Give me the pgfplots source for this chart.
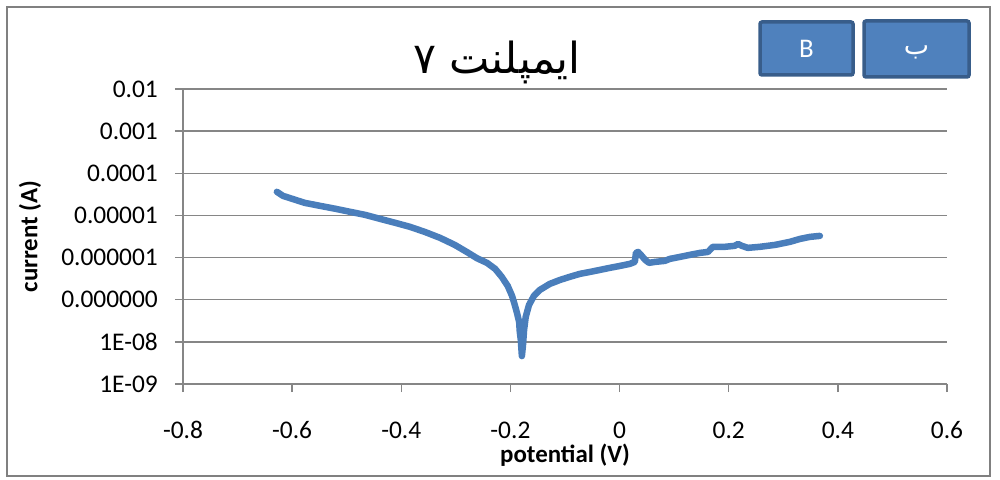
\documentclass[border=0pt]{standalone}
\usepackage{pgfplots}
\pgfplotsset{compat=1.18}
\usepackage{fontspec}
\setmainfont{Carlito}
\newfontfamily\arabicfont[Script=Arabic]{DejaVu Sans}
\TeXXeTstate=1
\definecolor{gridgray}{RGB}{134,134,134}
\definecolor{curveblue}{RGB}{74,126,187}
\definecolor{boxfill}{RGB}{79,129,189}
\definecolor{boxedge}{RGB}{56,93,138}
\definecolor{framegray}{RGB}{128,128,128}
\begin{document}
\begin{tikzpicture}
\path[use as bounding box] (0,0) rectangle (1000bp,480bp);
\draw[framegray, line width=1.8bp] (7bp,4bp) rectangle (990bp,473bp);
\begin{axis}[
  at={(183bp,96bp)}, anchor=south west,
  scale only axis, width=764bp, height=295bp,
  ymode=log, xmin=-0.8, xmax=0.6, ymin=1e-9, ymax=1e-2,
  axis lines=left, axis line style={-, gridgray, line width=1.5bp},
  xtick={-0.8,-0.6,-0.4,-0.2,0,0.2,0.4,0.6},
  xticklabels={-0.8,-0.6,-0.4,-0.2,0,0.2,0.4,0.6},
  ytick={1e-9,1e-8,1e-7,1e-6,1e-5,1e-4,1e-3,1e-2},
  yticklabels={1E-09,1E-08,0.000000,0.000001,0.00001,0.0001,0.001,0.01},
  minor tick num=0, yminorticks=false,
  tick align=outside, major tick length=8bp,
  tick style={gridgray, line width=1.5bp},
  ymajorgrids, grid style={gridgray, line width=1.5bp},
  xticklabel style={font=\fontsize{25.5}{30}\selectfont, inner sep=0pt, anchor=center, yshift=-38bp},
  yticklabel style={font=\fontsize{25.5}{30}\selectfont, inner sep=0pt, anchor=east, xshift=-17bp},
  xlabel={\textbf{potential (V)}}, ylabel={\textbf{current (A)}},
  every axis x label/.style={at={(axis description cs:0.5,0)}, yshift=-71bp, anchor=center, font=\fontsize{25}{30}\selectfont},
  every axis y label/.style={at={(axis description cs:0,0.5)}, xshift=-153bp, rotate=90, anchor=center, font=\fontsize{25}{30}\selectfont},
  clip=false,
]
\addplot[curveblue, line width=6.5bp, line join=round, line cap=round] coordinates {
(-0.628,3.64e-5) (-0.617,2.92e-5) (-0.600,2.48e-5) (-0.577,1.99e-5) (-0.549,1.69e-5)
(-0.521,1.44e-5) (-0.494,1.22e-5) (-0.466,1.03e-5) (-0.439,8.3e-6) (-0.411,6.67e-6)
(-0.384,5.36e-6) (-0.357,4.07e-6) (-0.329,2.94e-6) (-0.302,2.0e-6) (-0.280,1.36e-6)
(-0.261,9.6e-7) (-0.243,7.5e-7) (-0.228,5.4e-7) (-0.216,3.5e-7) (-0.205,2.13e-7)
(-0.197,1.23e-7) (-0.192,7.5e-8) (-0.188,4.85e-8) (-0.184,2.97e-8) (-0.183,1.82e-8)
(-0.181,1.11e-8) (-0.180,7.2e-9) (-0.179,4.6e-9) (-0.177,8.4e-9) (-0.175,1.92e-8)
(-0.172,3.9e-8) (-0.166,7.5e-8) (-0.157,1.23e-7) (-0.146,1.71e-7) (-0.128,2.37e-7)
(-0.109,2.95e-7) (-0.091,3.5e-7) (-0.073,4.1e-7) (-0.054,4.57e-7) (-0.036,5.1e-7)
(-0.018,5.7e-7) (0.001,6.35e-7) (0.019,7.1e-7) (0.028,7.9e-7) (0.030,1.29e-6)
(0.034,1.36e-6) (0.039,1.16e-6) (0.047,8.8e-7) (0.054,7.5e-7) (0.065,7.9e-7)
(0.083,8.35e-7) (0.092,9.3e-7) (0.111,1.04e-6) (0.129,1.16e-6) (0.147,1.29e-6)
(0.162,1.36e-6) (0.171,1.8e-6) (0.193,1.8e-6) (0.211,1.9e-6) (0.217,2.1e-6)
(0.224,1.9e-6) (0.235,1.7e-6) (0.257,1.8e-6) (0.285,2.0e-6) (0.312,2.36e-6)
(0.331,2.78e-6) (0.349,3.1e-6) (0.367,3.27e-6)
};
\end{axis}
\node[font=\arabicfont\fontsize{43}{48}\selectfont, anchor=center] at (497bp,418bp) {\beginR ایمپلنت ۷\endR};
\draw[boxedge, fill=boxfill, line width=3.5bp, rounded corners=2bp] (760bp,405bp) rectangle (853bp,458bp);
\node[white, font=\fontsize{27}{32}\selectfont] at (806.5bp,431.5bp) {B};
\draw[boxedge, fill=boxfill, line width=3.5bp, rounded corners=2bp] (864bp,403bp) rectangle (969bp,459bp);
\node[white, font=\arabicfont\fontsize{27}{32}\selectfont] at (916.5bp,428bp) {\beginR ب\endR};
\end{tikzpicture}
\end{document}
